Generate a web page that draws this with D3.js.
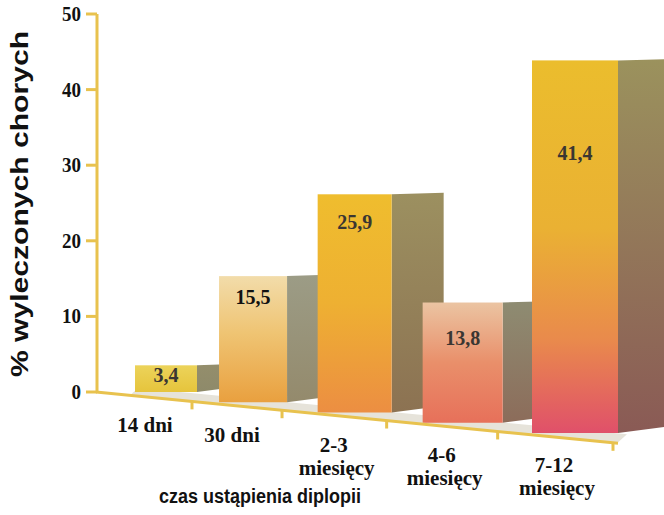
<!DOCTYPE html>
<html><head><meta charset="utf-8">
<script src="https://cdn.jsdelivr.net/npm/d3@7"></script>
<style>html,body{margin:0;padding:0;background:#fff;}svg{display:block;}</style>
</head><body>
<svg id="chart" width="664" height="515"></svg>
<script>
// ---- data ----
const categories = [["14 dni"], ["30 dni"], ["2-3", "miesięcy"], ["4-6", "miesięcy"], ["7-12", "miesięcy"]];
const values = [3.4, 15.5, 25.9, 13.8, 41.4];
const yTicks = [0, 10, 20, 30, 40, 50];
const yTitle = "% wyleczonych chorych";
const xTitle = "czas ustąpienia diplopii";

// ---- styles / layout ----
const axisColor = "#e8c24e";
const frontStops = [
  [["0", "#ecd35a"], ["1", "#e6c43c"]],
  [["0", "#f2dcaa"], ["0.45", "#efc473"], ["1", "#e9a03f"]],
  [["0", "#efbd2e"], ["0.5", "#eeb032"], ["1", "#ec8e42"]],
  [["0", "#ebc4a2"], ["0.5", "#e98f6a"], ["1", "#e7705a"]],
  [["0", "#ebbd2d"], ["0.45", "#eab133"], ["0.75", "#e98a4c"], ["1", "#e0506a"]]
];
const sideStops = [
  [["0", "#948e6c"], ["1", "#8e8a6a"]],
  [["0", "#9c9c86"], ["1", "#948a6c"]],
  [["0", "#9c9060"], ["1", "#8c7252"]],
  [["0", "#8e8c72"], ["1", "#8c6c5a"]],
  [["0", "#9b925d"], ["1", "#8a5a55"]]
];
const labelDrop = [17, 28, 35, 42, 100];

const svg = d3.select("#chart");
const defs = svg.append("defs");
const idx = d3.range(values.length);

// scales
const y = d3.scaleLinear().domain([0, 50]).range([392, 14]);
const xLeft = d3.scalePow().exponent(1.12).domain([0, 4]).range([135, 532]);
const barW = d3.scaleLinear().domain([0, 4]).range([62, 86]);
const unitPx = d3.scaleLinear().domain([0, 4]).range([7.85, 9.0]);
const barBottom = d3.scaleLinear().domain([0, 4]).range([392, 433]);
const depth = d3.scaleLinear().domain([0, 4]).range([44, 60]);
const baseY = d3.scaleLinear().domain([97, 617]).range([392, 443.2]);
const labelY = d3.scaleLinear().domain([0, 4]).range([432, 472]);
const fmt = d3.formatLocale({decimal: ",", thousands: " ", grouping: [3], currency: ["", ""]}).format(".1f");

idx.forEach(i => {
  const gf = defs.append("linearGradient").attr("id", "gf" + i).attr("x1", 0).attr("y1", 0).attr("x2", 0).attr("y2", 1);
  frontStops[i].forEach(s => gf.append("stop").attr("offset", s[0]).attr("stop-color", s[1]));
  const gs = defs.append("linearGradient").attr("id", "gs" + i).attr("x1", 0).attr("y1", 0).attr("x2", 0).attr("y2", 1);
  sideStops[i].forEach(s => gs.append("stop").attr("offset", s[0]).attr("stop-color", s[1]));
});

// floor
const fx0 = 130, fx1 = 617;
svg.append("path")
  .attr("d", `M${fx0},${baseY(fx0)} L${fx1},${baseY(fx1)} L${fx1 + 10},${baseY(fx1) - 9} L${fx0 + 8},${baseY(fx0 + 8) - 8} Z`)
  .attr("fill", "#e6e3da");

// bars
idx.forEach(i => {
  const ys = d3.scaleLinear().domain([0, 50]).range([barBottom(i), barBottom(i) - 50 * unitPx(i)]);
  const x0 = xLeft(i), w = barW(i), xr = x0 + w, d = depth(i);
  const top = ys(values[i]), bot = ys(0);
  const g = svg.append("g");
  g.append("path")
    .attr("d", `M${xr},${top} L${xr + d},${top - 1.5} L${xr + d},${bot - 0.13 * d} L${xr},${bot} Z`)
    .attr("fill", `url(#gs${i})`);
  g.append("rect").attr("x", x0).attr("y", top).attr("width", w).attr("height", bot - top)
    .attr("fill", `url(#gf${i})`);
  g.append("text")
    .attr("x", x0 + w / 2).attr("y", top + labelDrop[i])
    .attr("text-anchor", "middle")
    .attr("font-family", "'Liberation Serif', 'Times New Roman', serif")
    .attr("font-weight", "bold").attr("font-size", 20)
    .attr("fill", i === 1 ? "#111" : "#3a3632")
    .text(fmt(values[i]));
});

// y axis
svg.append("line").attr("x1", 97).attr("x2", 97).attr("y1", y(50)).attr("y2", y(0) + 1)
  .attr("stroke", axisColor).attr("stroke-width", 3);
svg.selectAll(".yt").data(yTicks).enter().append("line")
  .attr("x1", 86).attr("x2", 97).attr("y1", d => y(d)).attr("y2", d => y(d))
  .attr("stroke", axisColor).attr("stroke-width", 3);
svg.selectAll(".ytl").data(yTicks).enter().append("text")
  .attr("transform", d => `translate(81,${y(d) + 7}) scale(1,1.12)`)
  .attr("text-anchor", "end")
  .attr("font-family", "'Liberation Serif', 'Times New Roman', serif")
  .attr("font-weight", "bold").attr("font-size", 19).attr("fill", "#111")
  .text(d => d);

// baseline + category ticks
svg.append("line").attr("x1", 96).attr("y1", baseY(96)).attr("x2", 618).attr("y2", baseY(618))
  .attr("stroke", axisColor).attr("stroke-width", 3);
idx.forEach(i => {
  const tx = xLeft(i) + barW(i) - 5;
  svg.append("line").attr("x1", tx).attr("x2", tx).attr("y1", baseY(tx)).attr("y2", baseY(tx) + 8)
    .attr("stroke", axisColor).attr("stroke-width", 3);
});

// category labels
idx.forEach(i => {
  const cx = xLeft(i) + barW(i) / 2 - 21;
  categories[i].forEach((line, k) => {
    svg.append("text")
      .attr("x", cx + (k ? 3 : 0)).attr("y", labelY(i) + k * 23)
      .attr("text-anchor", "middle")
      .attr("font-family", "'Liberation Serif', 'Times New Roman', serif")
      .attr("font-weight", "bold").attr("font-size", 21).attr("fill", "#111")
      .text(line);
  });
});

// titles
svg.append("text")
  .attr("transform", "translate(28,204) rotate(-90)")
  .attr("text-anchor", "middle")
  .attr("font-family", "'Liberation Sans', Arial, sans-serif")
  .attr("font-weight", "bold").attr("font-size", 24).attr("fill", "#111")
  .attr("textLength", 346).attr("lengthAdjust", "spacingAndGlyphs")
  .text(yTitle);
svg.append("text")
  .attr("transform", "translate(260,503) scale(1,1.12)")
  .attr("text-anchor", "middle")
  .attr("font-family", "'Liberation Sans', Arial, sans-serif")
  .attr("font-weight", "bold").attr("font-size", 18).attr("fill", "#111")
  .text(xTitle);
</script>
</body></html>
